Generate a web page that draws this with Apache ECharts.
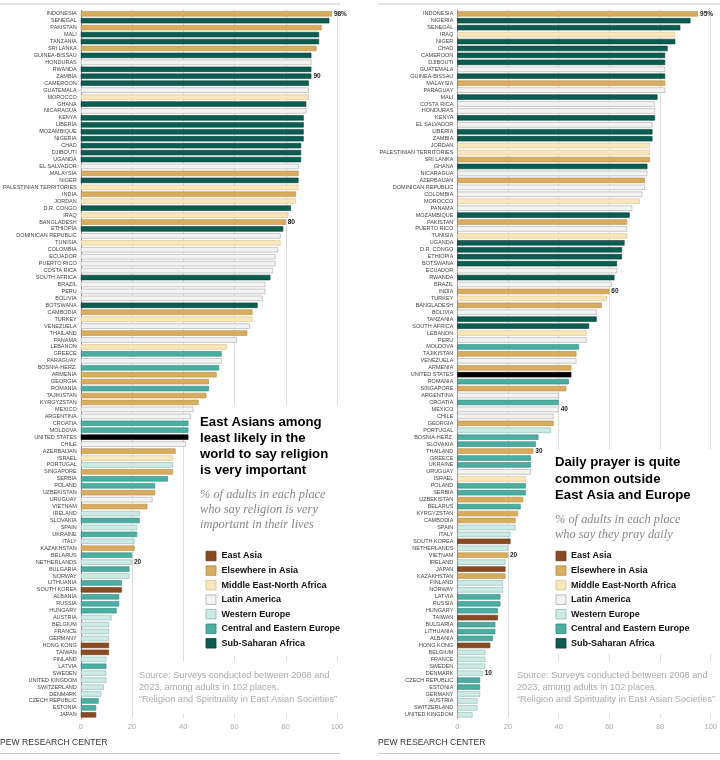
<!DOCTYPE html>
<html><head><meta charset="utf-8">
<script src="https://cdn.jsdelivr.net/npm/echarts@6/dist/echarts.min.js"></script>
<style>html,body{margin:0;padding:0;background:#fff}#c{width:720px;height:760px}</style>
</head><body><div id="c"></div>
<script>
// ---------- DATA ----------
const leftNames = ['INDONESIA','SENEGAL','PAKISTAN','MALI','TANZANIA','SRI LANKA','GUINEA-BISSAU','HONDURAS','RWANDA','ZAMBIA','CAMEROON','GUATEMALA','MOROCCO','GHANA','NICARAGUA','KENYA','LIBERIA','MOZAMBIQUE','NIGERIA','CHAD','DJIBOUTI','UGANDA','EL SALVADOR','MALAYSIA','NIGER','PALESTINIAN TERRITORIES','INDIA','JORDAN','D.R. CONGO','IRAQ','BANGLADESH','ETHIOPIA','DOMINICAN REPUBLIC','TUNISIA','COLOMBIA','ECUADOR','PUERTO RICO','COSTA RICA','SOUTH AFRICA','BRAZIL','PERU','BOLIVIA','BOTSWANA','CAMBODIA','TURKEY','VENEZUELA','THAILAND','PANAMA','LEBANON','GREECE','PARAGUAY','BOSNIA-HERZ.','ARMENIA','GEORGIA','ROMANIA','TAJIKISTAN','KYRGYZSTAN','MEXICO','ARGENTINA','CROATIA','MOLDOVA','UNITED STATES','CHILE','AZERBAIJAN','ISRAEL','PORTUGAL','SINGAPORE','SERBIA','POLAND','UZBEKISTAN','URUGUAY','VIETNAM','IRELAND','SLOVAKIA','SPAIN','UKRAINE','ITALY','KAZAKHSTAN','BELARUS','NETHERLANDS','BULGARIA','NORWAY','LITHUANIA','SOUTH KOREA','ALBANIA','RUSSIA','HUNGARY','AUSTRIA','BELGIUM','FRANCE','GERMANY','HONG KONG','TAIWAN','FINLAND','LATVIA','SWEDEN','UNITED KINGDOM','SWITZERLAND','DENMARK','CZECH REPUBLIC','ESTONIA','JAPAN'];
const leftValues = [98,97,94,93,93,92,90,90,90,90,89,89,89,88,88,87,87,87,87,86,86,86,85,85,85,85,84,84,82,81,80,79,78,78,77,76,76,75,74,72,72,71,69,67,67,66,65,61,57,55,55,54,53,50,50,49,46,44,43,42,42,42,41,37,36,36,36,34,29,29,28,26,23,23,22,22,21,21,20,20,19,19,16,16,15,15,14,12,11,11,11,11,11,10,10,10,10,9,8,7,6,6];
const leftLabeled = ['INDONESIA','ZAMBIA','BANGLADESH','NETHERLANDS'];

const rightNames = ['INDONESIA','NIGERIA','SENEGAL','IRAQ','NIGER','CHAD','CAMEROON','DJIBOUTI','GUATEMALA','GUINEA-BISSAU','MALAYSIA','PARAGUAY','MALI','COSTA RICA','HONDURAS','KENYA','EL SALVADOR','LIBERIA','ZAMBIA','JORDAN','PALESTINIAN TERRITORIES','SRI LANKA','GHANA','NICARAGUA','AZERBAIJAN','DOMINICAN REPUBLIC','COLOMBIA','MOROCCO','PANAMA','MOZAMBIQUE','PAKISTAN','PUERTO RICO','TUNISIA','UGANDA','D.R. CONGO','ETHIOPIA','BOTSWANA','ECUADOR','RWANDA','BRAZIL','INDIA','TURKEY','BANGLADESH','BOLIVIA','TANZANIA','SOUTH AFRICA','LEBANON','PERU','MOLDOVA','TAJIKISTAN','VENEZUELA','ARMENIA','UNITED STATES','ROMANIA','SINGAPORE','ARGENTINA','CROATIA','MEXICO','CHILE','GEORGIA','PORTUGAL','BOSNIA-HERZ.','SLOVAKIA','THAILAND','GREECE','UKRAINE','URUGUAY','ISRAEL','POLAND','SERBIA','UZBEKISTAN','BELARUS','KYRGYZSTAN','CAMBODIA','SPAIN','ITALY','SOUTH KOREA','NETHERLANDS','VIETNAM','IRELAND','JAPAN','KAZAKHSTAN','FINLAND','NORWAY','LATVIA','RUSSIA','HUNGARY','TAIWAN','BULGARIA','LITHUANIA','ALBANIA','HONG KONG','BELGIUM','FRANCE','SWEDEN','DENMARK','CZECH REPUBLIC','ESTONIA','GERMANY','AUSTRIA','SWITZERLAND','UNITED KINGDOM'];
const rightValues = [95,92,88,86,86,83,82,82,82,82,82,82,79,78,78,78,77,77,77,76,76,76,75,75,74,74,73,72,69,68,67,67,67,66,65,65,63,63,62,61,60,59,57,55,55,52,51,51,48,47,47,45,45,44,43,40,40,40,38,38,37,32,31,30,29,29,29,27,27,27,26,25,24,23,23,21,21,20,20,19,19,19,18,18,17,17,16,16,15,15,14,13,11,11,11,10,9,9,9,8,8,6];
const rightLabeled = ['INDONESIA','INDIA','MEXICO','THAILAND','VIETNAM','DENMARK'];

// region membership
const eastAsia = ['JAPAN','SOUTH KOREA','HONG KONG','TAIWAN'];
const elsewhereAsia = ['INDONESIA','PAKISTAN','SRI LANKA','MALAYSIA','INDIA','BANGLADESH','CAMBODIA','THAILAND','ARMENIA','GEORGIA','TAJIKISTAN','KYRGYZSTAN','AZERBAIJAN','SINGAPORE','UZBEKISTAN','VIETNAM','KAZAKHSTAN'];
const mena = ['MOROCCO','PALESTINIAN TERRITORIES','JORDAN','IRAQ','TUNISIA','TURKEY','LEBANON','ISRAEL'];
const latinAmerica = ['HONDURAS','GUATEMALA','NICARAGUA','EL SALVADOR','DOMINICAN REPUBLIC','COLOMBIA','ECUADOR','PUERTO RICO','COSTA RICA','BRAZIL','PERU','BOLIVIA','VENEZUELA','PANAMA','PARAGUAY','MEXICO','ARGENTINA','CHILE','URUGUAY'];
const westernEurope = ['PORTUGAL','IRELAND','SPAIN','ITALY','NETHERLANDS','NORWAY','AUSTRIA','BELGIUM','FRANCE','GERMANY','FINLAND','SWEDEN','UNITED KINGDOM','SWITZERLAND','DENMARK'];
const centralEasternEurope = ['GREECE','BOSNIA-HERZ.','ROMANIA','CROATIA','MOLDOVA','SERBIA','POLAND','SLOVAKIA','UKRAINE','BELARUS','BULGARIA','LITHUANIA','ALBANIA','RUSSIA','HUNGARY','LATVIA','CZECH REPUBLIC','ESTONIA'];
const subSaharanAfrica = ['SENEGAL','MALI','TANZANIA','GUINEA-BISSAU','RWANDA','ZAMBIA','CAMEROON','GHANA','KENYA','LIBERIA','MOZAMBIQUE','NIGERIA','CHAD','DJIBOUTI','UGANDA','NIGER','D.R. CONGO','ETHIOPIA','SOUTH AFRICA','BOTSWANA'];
const highlighted = ['UNITED STATES'];

const legendNames = ['East Asia','Elsewhere in Asia','Middle East-North Africa','Latin America','Western Europe','Central and Eastern Europe','Sub-Saharan Africa'];

// ---------- STYLE ----------
const regionStyles = [
  {list: eastAsia, fill:'#8A4B22', border:'#6a3816'},
  {list: elsewhereAsia, fill:'#D9AD5F', border:'#b58d45'},
  {list: mena, fill:'#F8E7BA', border:'#d8c38e'},
  {list: latinAmerica, fill:'#F3F3F1', border:'#a9a9a9'},
  {list: westernEurope, fill:'#CDEAE5', border:'#8db8b1'},
  {list: centralEasternEurope, fill:'#4BAEA1', border:'#2f8a7e'},
  {list: subSaharanAfrica, fill:'#0B5D4F', border:'#063f35'}
];
function styleFor(name){
  if (highlighted.includes(name)) return {color:'#000', borderColor:'#000', borderWidth:0.6};
  for (const r of regionStyles) if (r.list.includes(name)) return {color:r.fill, borderColor:r.border, borderWidth:0.6};
  return {color:'#ccc'};
}
function buildData(names, values, labeled){
  return values.map((v,i)=>{
    const item = {value:v, itemStyle: styleFor(names[i])};
    if (labeled.includes(names[i])) item.label = {show:true};
    return item;
  });
}

const chart = echarts.init(document.getElementById('c'), null, {renderer:'canvas'});
const labelFont = 'Liberation Sans, Arial, sans-serif';

function yAxisFor(idx, names){
  return {
    type:'category', gridIndex:idx, data:names, inverse:true,
    axisTick:{show:false},
    axisLine:{show:true, lineStyle:{color:'#666', width:0.8}},
    axisLabel:{fontSize:5.5, color:'#444', margin:4, interval:0, fontFamily:labelFont}
  };
}
function xAxisFor(idx){
  return {
    type:'value', gridIndex:idx, min:0, max:100, interval:20,
    axisLine:{show:false}, axisTick:{show:false},
    splitLine:{show:true, lineStyle:{type:'dotted', color:'#bdbdbd', width:1}},
    axisLabel:{color:'#aaa', fontSize:7.5, margin:5, fontFamily:labelFont}
  };
}
function seriesFor(idx, names, values, labeled){
  return {
    type:'bar', xAxisIndex:idx, yAxisIndex:idx,
    data: buildData(names, values, labeled),
    barCategoryGap:'23%',
    label:{show:false, position:'right', distance:2, fontSize:6.5, fontWeight:'bold', color:'#222', fontFamily:labelFont,
      formatter: p => p.dataIndex===0 ? p.value + '%' : String(p.value)},
    animation:false
  };
}

const G = [];
function whiteRect(x,y,w,h){ G.push({type:'rect', z:50, shape:{x,y,width:w,height:h}, style:{fill:'#fff'}}); }
function hline(x1,x2,y){ G.push({type:'line', z:60, shape:{x1,y1:y,x2,y2:y}, style:{stroke:'#c8c8c8', lineWidth:1.2}}); }
function text(x,y,str,font,fill,lh){ G.push({type:'text', z:70, x, y, style:{text:str, font, fill, lineHeight:lh, textVerticalAlign:'top', textAlign:'left'}}); }
function legendAt(x0, x1){
  legendNames.forEach((n,i)=>{
    const cy = 556 + i*14.55;
    const st = regionStyles[i];
    G.push({type:'rect', z:70, shape:{x:x0, y:cy-4.75, width:10, height:9.5}, style:{fill:st.fill, stroke:st.border, lineWidth:0.8}});
    text(x1, cy-6, n, 'bold 9px Liberation Sans, Arial, sans-serif', '#111', 12);
  });
}

// covering boxes (annotation areas)
whiteRect(195, 405, 160, 250);
whiteRect(137, 661, 220, 53);
whiteRect(549, 449, 171, 205);
whiteRect(514, 661, 206, 53);

// rules
hline(0, 340, 4); hline(378, 720, 4);
hline(0, 340, 753.5); hline(378, 720, 753.5);

// left annotation
text(200, 414.3, 'East Asians among\nleast likely in the\nworld to say religion\nis very important', 'bold 13.2px Liberation Sans, Arial, sans-serif', '#000', 16.1);
text(200, 487.8, '% of adults in each place\nwho say religion is very\nimportant in their lives', 'italic 12.4px Liberation Serif, Times New Roman, serif', '#888', 14.6);
legendAt(206, 221.5);
text(139, 669, 'Source: Surveys conducted between 2008 and\n2023, among adults in 102 places.\n\u201cReligion and Spirituality in East Asian Societies\u201d', '9.2px Liberation Sans, Arial, sans-serif', '#aaa', 12);
text(0, 737.5, 'PEW RESEARCH CENTER', '8.6px Liberation Sans, Arial, sans-serif', '#333', 10);

// right annotation
text(555, 454.5, 'Daily prayer is quite\ncommon outside\nEast Asia and Europe', 'bold 13.2px Liberation Sans, Arial, sans-serif', '#000', 16.5);
text(555, 511.5, '% of adults in each place\nwho say they pray daily', 'italic 12.4px Liberation Serif, Times New Roman, serif', '#888', 15.5);
legendAt(556, 571);
text(517, 669, 'Source: Surveys conducted between 2008 and\n2023, among adults in 102 places.\n\u201cReligion and Spirituality in East Asian Societies\u201d', '9.2px Liberation Sans, Arial, sans-serif', '#aaa', 12);
text(378, 737.5, 'PEW RESEARCH CENTER', '8.6px Liberation Sans, Arial, sans-serif', '#333', 10);

chart.setOption({
  animation:false,
  backgroundColor:'#fff',
  grid:[
    {left:78, width:259, top:10.3, height:708},
    {left:457.3, width:257.7, top:10.3, height:708}
  ],
  xAxis:[xAxisFor(0), xAxisFor(1)],
  yAxis:[yAxisFor(0, leftNames), yAxisFor(1, rightNames)],
  series:[seriesFor(0, leftNames, leftValues, leftLabeled), seriesFor(1, rightNames, rightValues, rightLabeled)],
  graphic: G
});
</script></body></html>
